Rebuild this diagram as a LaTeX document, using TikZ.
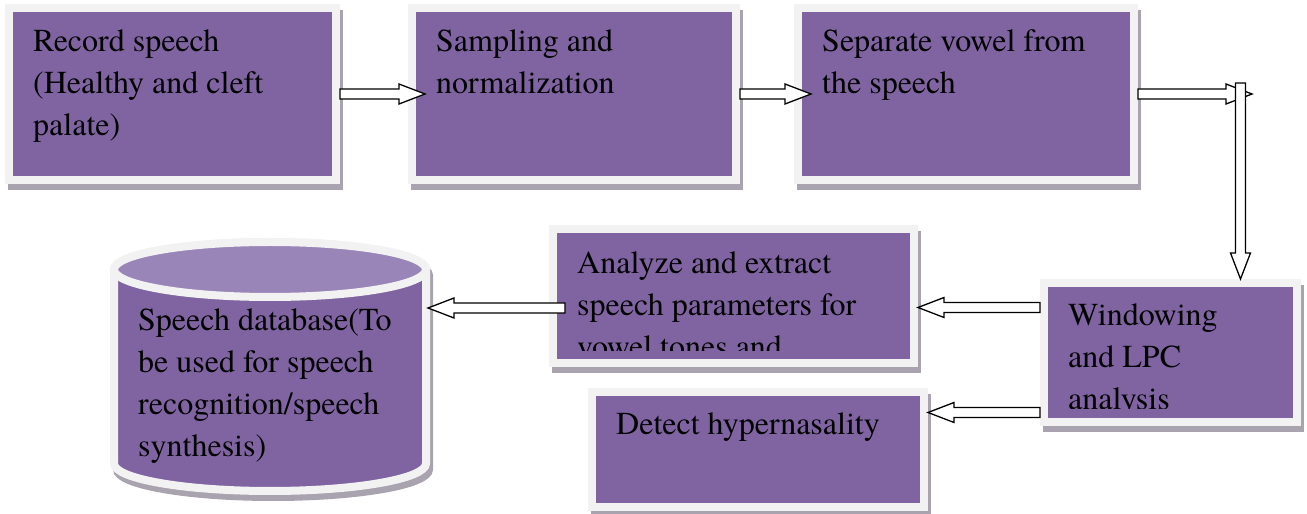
\documentclass[tikz,border=0pt]{standalone}
\usepackage{fontspec}
\setmainfont{texgyretermes}[Extension=.otf, UprightFont=*-regular, BoldFont=*-bold, ItalicFont=*-italic, BoldItalicFont=*-bolditalic]
\usepackage{tikz}
\usetikzlibrary{calc, shadows}
\definecolor{boxpurple}{HTML}{8064A2}
\definecolor{lidpurple}{HTML}{9A85B8}
\definecolor{boxframe}{HTML}{F2F2F2}
\definecolor{boxshadow}{HTML}{A9A3AF}
\newcommand{\stepfont}{\fontsize{32}{42}\selectfont}
\tikzset{
    procbox/.style={rectangle, fill=boxpurple, draw=boxframe, line width=8pt, inner sep=0pt,
        drop shadow={shadow xshift=3pt, shadow yshift=-6pt, fill=boxshadow, draw=boxshadow, line width=8pt, opacity=1}},
    drumshadow/.style={fill=boxshadow, draw=boxshadow, line width=8pt},
    drumbody/.style={fill=boxpurple, draw=boxframe, line width=8pt},
    drumlid/.style={fill=lidpurple, draw=boxframe, line width=8pt},
    steptext/.style={font=\stepfont, align=left, inner sep=0pt, anchor=north west},
    flow/.style={draw=black, fill=white, line width=1.3pt,
        to path={let \p1=(\tikztostart), \p2=(\tikztotarget),
            \n1={atan2(\y2-\y1,\x2-\x1)}, \n2={veclen(\x2-\x1,\y2-\y1)-26} in
            ($(\p1)+(\n1+90:5pt)$) -- ++(\n1:\n2) -- ++(\n1+90:5pt) -- (\p2)
            -- ($(\p1)+(\n1:\n2)+(\n1-90:10pt)$) -- ++(\n1+90:5pt)
            -- ($(\p1)+(\n1-90:5pt)$) -- cycle}},
}

\begin{document}
\begin{tikzpicture}[x=1pt, y=1pt]
    \useasboundingbox (0,0) rectangle (1307,514);

    \node[procbox, minimum width=327pt, minimum height=172pt] (rec) at (172.5,420) {};
    \node[procbox, minimum width=324pt, minimum height=172pt] (samp) at (574,420) {};
    \node[procbox, minimum width=336pt, minimum height=172pt] (sep) at (966,420) {};
    \node[procbox, minimum width=253pt, minimum height=139pt] (win) at (1170.5,161.5) {};
    \node[procbox, minimum width=361pt, minimum height=134pt] (ana) at (733.5,218) {};
    \node[procbox, minimum width=332pt, minimum height=115pt] (det) at (758,64.5) {};

    % database drum
    \coordinate (db) at (270,147.5);
    \coordinate (db-rim) at ([xshift=158pt]db);
    \begin{scope}[shift={(db)}]
        \path[drumshadow, shift={(3,-6)}] (-156,97) -- (-156,-97)
            arc[start angle=180, end angle=360, x radius=156, y radius=27.5]
            -- (156,97) arc[start angle=0, end angle=180, x radius=156, y radius=27.5] -- cycle;
        \path[drumbody] (-156,97) -- (-156,-97)
            arc[start angle=180, end angle=360, x radius=156, y radius=27.5]
            -- (156,97) arc[start angle=0, end angle=180, x radius=156, y radius=27.5] -- cycle;
        \path[drumlid] (0,97) ellipse[x radius=156, y radius=27.5];
    \end{scope}

    \node[steptext] (rec-t) at ([shift={(28,-25)}]rec.north west) {Record speech\\(Healthy and cleft\\palate)};
    \node[steptext] (samp-t) at ([shift={(28,-25)}]samp.north west) {Sampling and\\normalization};
    \node[steptext] (sep-t) at ([shift={(28,-25)}]sep.north west) {Separate vowel from\\the speech};
    \begin{scope}
        \clip (win.north west) rectangle ([yshift=17pt]win.south east);
        \node[steptext] (win-t) at ([shift={(28,-24)}]win.north west) {Windowing\\and LPC\\analysis};
    \end{scope}
    \begin{scope}
        \clip (ana.north west) rectangle ([yshift=16pt]ana.south east);
        \node[steptext] (ana-t) at ([shift={(28,-26)}]ana.north west) {Analyze and extract\\speech parameters for\\vowel tones and};
    \end{scope}
    \node[steptext] (det-t) at ([shift={(28,-24)}]det.north west) {Detect hypernasality};
    \node[steptext] (db-t) at ([shift={(-132,58)}]db) {Speech database(To\\be used for speech\\recognition/speech\\synthesis)};

    \coordinate (turn) at (1252,420);
    \coordinate (drop) at (1240.5,431);
    \draw[flow] (rec.east) to ([xshift=17pt]samp.west);
    \draw[flow] (samp.east) to ([xshift=17pt]sep.west);
    \draw[flow] (sep.east) to (turn);
    \draw[flow] (drop) to (drop |- win.north);
    \draw[flow] ([yshift=45pt]win.west) to ([yshift=45pt]win.west -| ana.east);
    \draw[flow] ([yshift=-60pt]win.west) to ([yshift=-60pt]win.west -| det.east);
    \draw[flow] ([xshift=16pt, yshift=-12pt]ana.west) to ([yshift=-12pt]ana.west -| db-rim);
\end{tikzpicture}
\end{document}
